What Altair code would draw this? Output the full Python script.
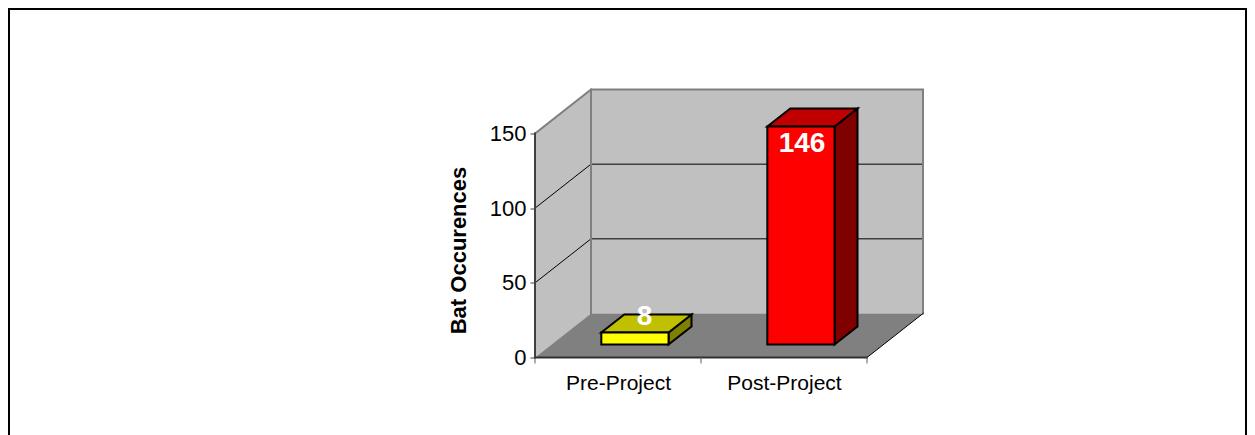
import altair as alt
import pandas as pd

categories = ["Pre-Project", "Post-Project"]
values = [8, 146]
value_ticks = [0, 50, 100, 150]
grid_values = [50, 100]
front_colors = ["#FFFF00", "#FF0000"]
top_colors = ["#C0C000", "#C00000"]
side_colors = ["#808000", "#800000"]
label_nudges = [(10, -16), (1.5, 18)]

FONT = "Liberation Sans"
W, H = 388, 268
CAT_PX = 166.0
UNIT_PX = 224 / 150
DX = 56 / CAT_PX        # depth shift, in category units
DY = 44 / UNIT_PX       # depth shift, in value units
VMAX = 150
NCAT = len(categories)
XDOM = [0, NCAT + DX]
YDOM = [0, VMAX + DY]
BAR_D0, BAR_D1 = 0.295, 0.705
BAR_X0, BAR_X1 = 0.30, 0.705


def px(c, d):
    return c + d * DX


def py(v, d):
    return v + d * DY


xs = alt.Scale(domain=XDOM, nice=False, zero=False)
ys = alt.Scale(domain=YDOM, nice=False, zero=False)


def area(rows, fill, stroke=None, width=2):
    df = pd.DataFrame(rows, columns=["x", "lo", "hi"])
    kw = {"fill": fill, "opacity": 1}
    if stroke:
        kw.update(stroke=stroke, strokeWidth=width)
    else:
        kw.update(strokeWidth=0)
    return alt.Chart(df).mark_area(**kw).encode(
        x=alt.X("x:Q", scale=xs, axis=None),
        y=alt.Y("hi:Q", scale=ys, axis=None),
        y2="lo:Q",
    )


def front(x0, x1, v, d, *a, **k):
    lo, hi = py(0, d), py(v, d)
    return area([(px(x0, d), lo, hi), (px(x1, d), lo, hi)], *a, **k)


def side(x, v, d0, d1, *a, **k):
    return area([(px(x, d0), py(0, d0), py(v, d0)), (px(x, d1), py(0, d1), py(v, d1))], *a, **k)


def top(x0, x1, v, d0, d1, *a, **k):
    y0, y1 = py(v, d0), py(v, d1)
    return area([(px(x0, d0), y0, y0), (px(x0, d1), y0, y1),
                 (px(x1, d0), y0, y1), (px(x1, d1), y1, y1)], *a, **k)


def line(points, color, width):
    df = pd.DataFrame([(px(c, d), py(v, d), i) for i, (c, v, d) in enumerate(points)],
                      columns=["x", "y", "i"])
    return alt.Chart(df).mark_line(color=color, strokeWidth=width, strokeCap="square").encode(
        x=alt.X("x:Q", scale=xs, axis=None),
        y=alt.Y("y:Q", scale=ys, axis=None),
        order="i:Q",
    )


def frame_rule(**enc):
    return alt.Chart(pd.DataFrame({"a": [0]})).mark_rule(color="#000000", strokeWidth=2).encode(**enc)


layers = []

# frame
layers.append(frame_rule(x=alt.value(-526), y=alt.value(-82), y2=alt.value(H + 78)))
layers.append(frame_rule(x=alt.value(-527), x2=alt.value(W + 324), y=alt.value(-80.5)))
layers.append(frame_rule(x=alt.value(W + 323), y=alt.value(-82), y2=alt.value(H + 78)))

# walls and floor
layers.append(side(0, VMAX, 0, 1, "#C0C0C0"))
layers.append(front(0, NCAT, VMAX, 1, "#C0C0C0"))
layers.append(top(0, NCAT, 0, 0, 1, "#808080"))

# gridlines
for g in grid_values:
    layers.append(line([(0, g, 0), (0, g, 1), (NCAT, g, 1)], "#000000", 1))

# wall edges
layers.append(line([(0, VMAX, 0), (0, VMAX, 1), (NCAT, VMAX, 1), (NCAT, 0, 1)], "#808080", 2))
layers.append(line([(0, VMAX, 1), (0, 0, 1)], "#808080", 2))
layers.append(line([(NCAT, 0, 0), (NCAT, 0, 1)], "#000000", 1))
layers.append(line([(0, VMAX, 0), (0, 0, 0)], "#404040", 2))
layers.append(line([(0, 0, 0), (NCAT, 0, 0)], "#303030", 2))

# category ticks
ticks_df = pd.DataFrame({"x": list(range(NCAT + 1))})
layers.append(alt.Chart(ticks_df).mark_rule(color="#606060", strokeWidth=1).encode(
    x=alt.X("x:Q", scale=xs, axis=None), y=alt.value(H), y2=alt.value(H + 6)))

# bars
for i, v in enumerate(values):
    x0, x1 = i + BAR_X0, i + BAR_X1
    layers.append(side(x1, v, BAR_D0, BAR_D1, side_colors[i], "#000000"))
    layers.append(top(x0, x1, v, BAR_D0, BAR_D1, top_colors[i], "#000000"))
    layers.append(front(x0, x1, v, BAR_D0, front_colors[i], "#000000"))

# data labels
for i, v in enumerate(values):
    ddx, ddy = label_nudges[i]
    df = pd.DataFrame({"x": [px(i + 0.5, BAR_D0)], "y": [py(v, BAR_D0)], "t": [str(v)]})
    layers.append(alt.Chart(df).mark_text(
        font=FONT, fontSize=28, fontWeight="bold", color="#FFFFFF", dx=ddx, dy=ddy,
        align="center", baseline="middle",
    ).encode(
        x=alt.X("x:Q", scale=xs, axis=None),
        y=alt.Y("y:Q", scale=ys, axis=None),
        text="t:N",
    ))

# axes
names = "[" + ",".join(f"'{c}'" for c in categories) + "]"
axis_df = pd.DataFrame({"x": [0], "y": [0]})
layers.append(alt.Chart(axis_df).mark_point(opacity=0).encode(
    x=alt.X("x:Q", scale=xs, axis=alt.Axis(
        values=[i + 0.5 for i in range(NCAT)],
        labelExpr=f"{names}[floor(datum.value)]",
        ticks=False, domain=False, grid=False, title=None,
        labelFont=FONT, labelFontSize=21, labelColor="#000000", labelPadding=15,
    )),
    y=alt.Y("y:Q", scale=ys, axis=alt.Axis(
        values=value_ticks, format="d",
        domain=False, grid=False, tickSize=5, tickColor="#404040", tickWidth=1,
        labelFont=FONT, labelFontSize=22, labelColor="#000000", labelPadding=4,
        title="Bat Occurences", titleFont=FONT, titleFontSize=22, titleFontWeight="bold",
        titleColor="#000000", titleX=-77, titleY=160.5, titleBaseline="middle", titleAlign="center",
    )),
))

chart = alt.layer(*layers).resolve_axis(x="independent", y="independent").properties(
    width=W, height=H,
    padding={"left": 527, "top": 81.5, "right": 324, "bottom": 77.5},
    autosize=alt.AutoSizeParams(type="none"),
    background="#FFFFFF",
).configure_view(stroke=None)

chart.save("out.html", embed_options={"renderer": "svg", "actions": False})
